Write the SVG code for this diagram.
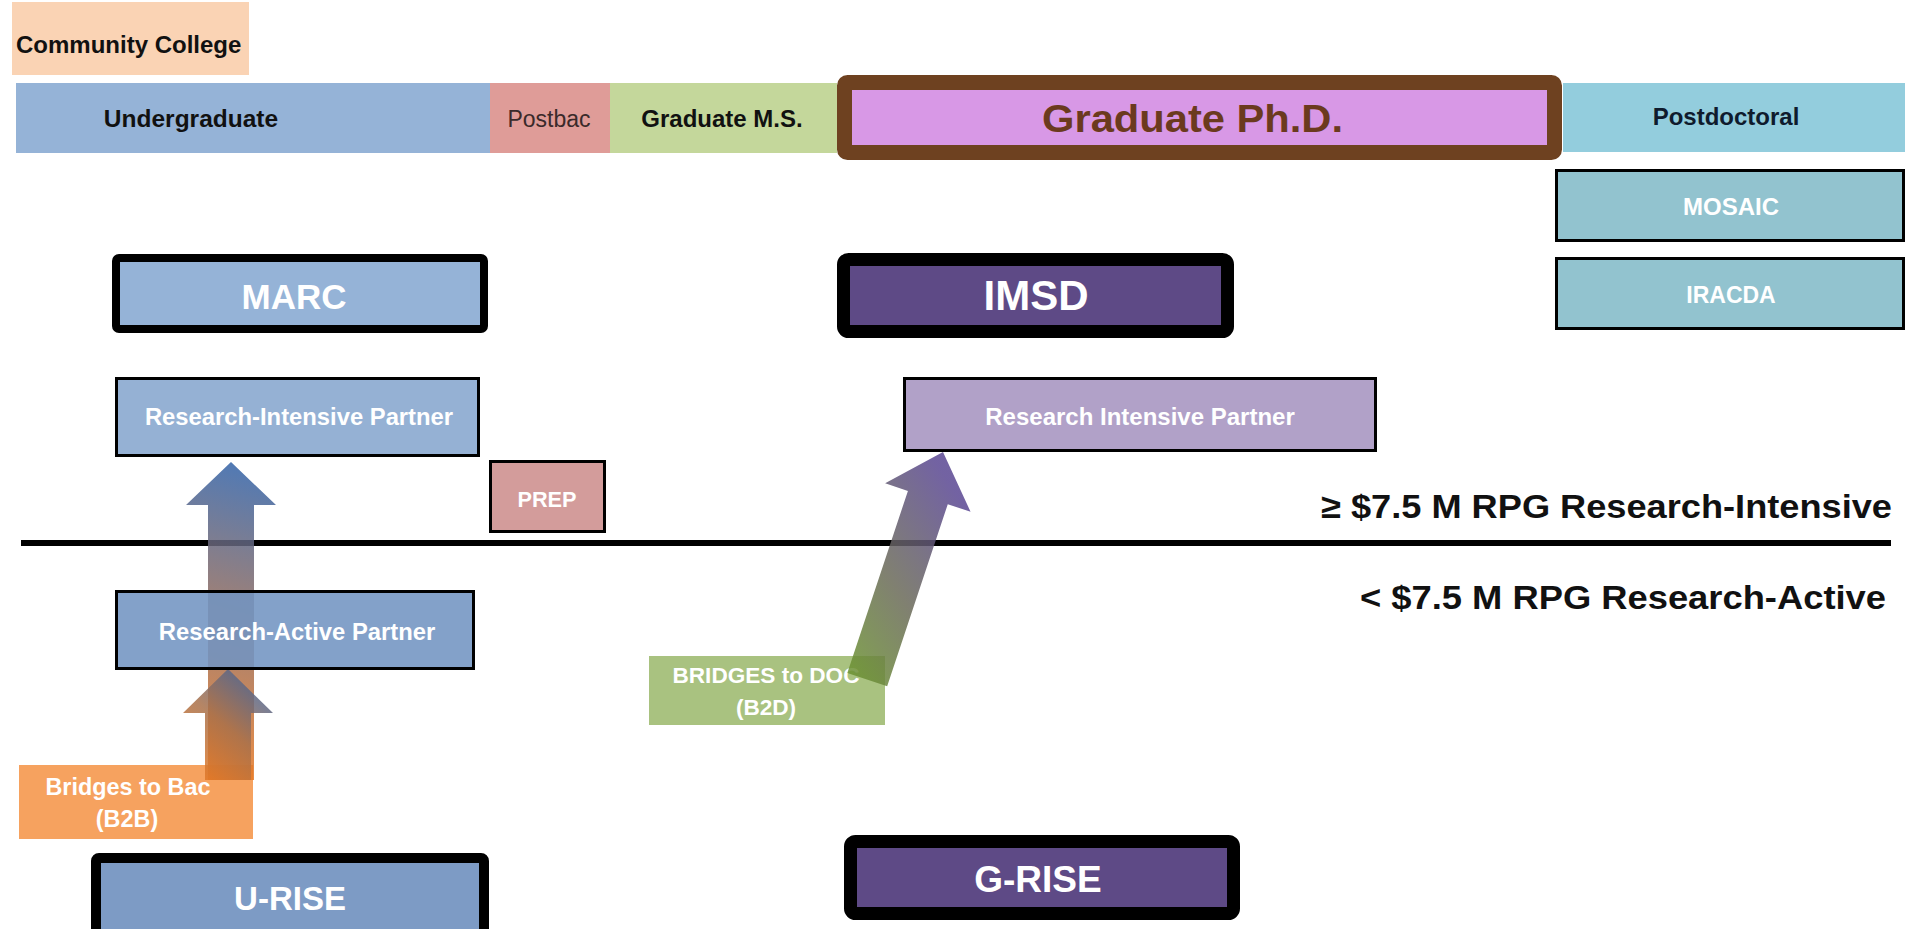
<svg xmlns="http://www.w3.org/2000/svg" width="1905" height="929" viewBox="0 0 1905 929">
<defs>
<style>
text{font-family:"Liberation Sans",Arial,sans-serif;font-weight:bold;}
.c{text-anchor:middle;}
.w{fill:#ffffff;}
.k{fill:#111111;}
.thin{stroke:#000;stroke-width:3;}
.arrow{fill-opacity:0.85;}
</style>
<linearGradient id="gUp" gradientUnits="userSpaceOnUse" x1="186" y1="780" x2="276" y2="470">
<stop offset="0" stop-color="#F07A1E"/>
<stop offset="0.55" stop-color="#8E6A5E"/>
<stop offset="1" stop-color="#2F62AA"/>
</linearGradient>
<linearGradient id="gLow" gradientUnits="userSpaceOnUse" x1="183" y1="780" x2="273" y2="675">
<stop offset="0" stop-color="#F07A1E"/>
<stop offset="0.5" stop-color="#A8704A"/>
<stop offset="1" stop-color="#2F62AA"/>
</linearGradient>
<linearGradient id="gDiag" x1="0" y1="1" x2="0.3" y2="0">
<stop offset="0" stop-color="#6C9A2A"/>
<stop offset="0.5" stop-color="#6A6A58"/>
<stop offset="1" stop-color="#5A4792"/>
</linearGradient>
</defs>
<rect width="1905" height="929" fill="#ffffff"/>

<g id="community-college">
<rect x="12" y="2" width="237" height="73" fill="#FAD3B4"/>
<text x="16" y="53" font-size="24" class="k">Community College</text>
</g>
<g id="undergraduate">
<rect x="16" y="83" width="474" height="70" fill="#95B3D7"/>
<text x="191" y="127" font-size="24.5" class="c k">Undergraduate</text>
</g>
<g id="postbac">
<rect x="490" y="83" width="120" height="70" fill="#DF9C98"/>
<text x="549" y="127" font-size="23" class="c" fill="#3a2a2a" style="font-weight:normal">Postbac</text>
</g>
<g id="graduate-ms">
<rect x="610" y="83" width="227" height="70" fill="#C4D79B"/>
<text x="722" y="127" font-size="24" class="c k">Graduate M.S.</text>
</g>
<g id="graduate-phd">
<rect x="844.5" y="82.5" width="710" height="70" rx="3" fill="#D898E6" stroke="#6E4120" stroke-width="15"/>
<text x="1042" y="132" font-size="38" fill="#6B3A1E" textLength="301" lengthAdjust="spacingAndGlyphs">Graduate Ph.D.</text>
</g>
<g id="postdoctoral">
<rect x="1563" y="83" width="342" height="69" fill="#93CDDD"/>
<text x="1726" y="125" font-size="24" class="c" fill="#0F1B2D">Postdoctoral</text>
</g>
<g id="mosaic">
<rect x="1556.5" y="170.5" width="347" height="70" fill="#92C3CF" class="thin"/>
<text x="1731" y="215" font-size="24" class="c w">MOSAIC</text>
</g>
<g id="iracda">
<rect x="1556.5" y="258.5" width="347" height="70" fill="#92C3CF" class="thin"/>
<text x="1731" y="303" font-size="23" class="c w">IRACDA</text>
</g>
<g id="marc">
<rect x="116" y="258" width="368" height="71" rx="3" fill="#95B3D7" stroke="#000" stroke-width="8"/>
<text x="294" y="309" font-size="35" class="c w">MARC</text>
</g>
<g id="imsd">
<rect x="843.5" y="259.5" width="384" height="72" rx="5" fill="#5E4A86" stroke="#000" stroke-width="13"/>
<text x="1036" y="310" font-size="42" class="c w">IMSD</text>
</g>
<g id="research-intensive-partner-left">
<rect x="116.5" y="378.5" width="362" height="77" fill="#95B1D4" class="thin"/>
<text x="299" y="425" font-size="23.8" class="c w">Research-Intensive Partner</text>
</g>
<g id="research-intensive-partner-right">
<rect x="904.5" y="378.5" width="471" height="72" fill="#B1A1C8" class="thin"/>
<text x="1140" y="425" font-size="24" class="c w">Research Intensive Partner</text>
</g>
<g id="prep">
<rect x="490.5" y="461.5" width="114" height="70" fill="#D39C9B" class="thin"/>
<text x="547" y="507" font-size="21.7" class="c w">PREP</text>
</g>

<g id="threshold">
<line x1="21" y1="543" x2="1891" y2="543" stroke="#000" stroke-width="6"/>
<text x="1321" y="518" font-size="34" class="k" textLength="571" lengthAdjust="spacingAndGlyphs">≥ $7.5 M RPG Research-Intensive</text>
<text x="1360" y="609" font-size="34" class="k" textLength="526" lengthAdjust="spacingAndGlyphs">&lt; $7.5 M RPG Research-Active</text>
</g>

<g id="bridges-to-bac">
<rect x="19" y="765" width="234" height="74" fill="#F6A25F"/>
<text x="128" y="795" font-size="23.4" class="c w">Bridges to Bac</text>
<text x="127" y="827" font-size="23.4" class="c w">(B2B)</text>
</g>
<g id="bridges-to-doc">
<rect x="649" y="656" width="236" height="69" fill="#A9C280"/>
<text x="766" y="683" font-size="22.6" class="c w">BRIDGES to DOC</text>
<text x="766" y="715" font-size="22.6" class="c w">(B2D)</text>
</g>

<g id="connectors">
<polygon class="arrow" fill="url(#gUp)" points="231,462 276,505 254,505 254,780 208,780 208,505 186,505"/>
<polygon class="arrow" fill="url(#gLow)" points="228,669 273,713 251,713 251,780 205,780 205,713 183,713"/>
<polygon class="arrow" fill="url(#gDiag)" transform="translate(943,452) rotate(18.4)" points="0,0 45,48 21,48 21,240 -21,240 -21,48 -45,48"/>
</g>

<g id="research-active-partner">
<rect x="116.5" y="591.5" width="357" height="77" fill="#7294C2" fill-opacity="0.88" class="thin"/>
<text x="297" y="640" font-size="23.8" class="c w">Research-Active Partner</text>
</g>
<g id="u-rise">
<rect x="96" y="858" width="388" height="90" rx="3" fill="#7D9BC5" stroke="#000" stroke-width="10"/>
<text x="290" y="910" font-size="33" class="c w">U-RISE</text>
</g>
<g id="g-rise">
<rect x="850.5" y="841.5" width="383" height="72" rx="5" fill="#5E4A86" stroke="#000" stroke-width="13"/>
<text x="1038" y="892" font-size="37" class="c w">G-RISE</text>
</g>
</svg>
